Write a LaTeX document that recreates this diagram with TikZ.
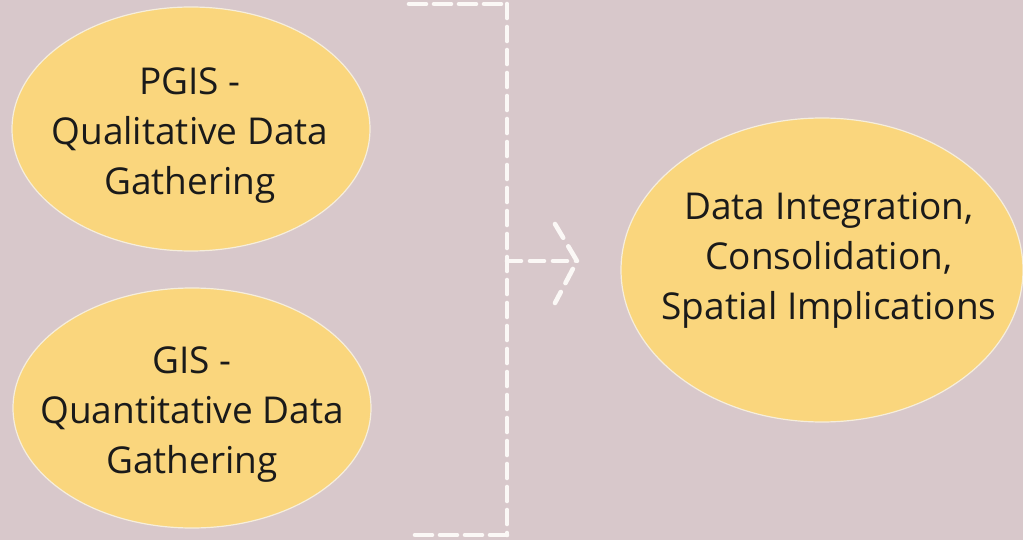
\documentclass[tikz,border=0pt]{standalone}
\usepackage{fontspec}
\setmainfont{Open Sans}
\usetikzlibrary{shapes.geometric}
\definecolor{bg}{HTML}{D8C8CB}
\definecolor{ell}{HTML}{FAD67D}
\definecolor{ellrim}{HTML}{F6EEDC}
\definecolor{dashw}{HTML}{FBF8F6}
\definecolor{txt}{HTML}{1A1A1A}
\tikzset{
  blob/.style={ellipse, fill=ell, draw=ellrim, line width=1.2pt, inner sep=0pt},
  blobtext/.style={inner sep=0pt, text=txt, align=center, font=\fontsize{37}{50}\selectfont},
  wdash/.style={draw=dashw, line width=4.6pt, dash pattern=on 14pt off 9pt, line cap=round}
}
\begin{document}
\begin{tikzpicture}[x=1pt,y=-1pt]
\useasboundingbox (0,0) rectangle (1023,540);
\fill[bg] (0,0) rectangle (1023,540);
\node[blob, minimum width=358pt, minimum height=244pt] (pgis) at (191,129) {};
\node[blobtext] (pgist) at (190,135.5) {PGIS -\\Qualitative Data\\Gathering};
\node[blob, minimum width=358pt, minimum height=240pt] (gis) at (192,408) {};
\node[blobtext] (gist) at (192,414.5) {GIS -\\Quantitative Data\\Gathering};
\node[blob, minimum width=402pt, minimum height=304pt] (integ) at (822,270) {};
\node[blobtext] (integt) at (829,260) {Data Integration,\\Consolidation,\\Spatial Implications};
\coordinate (tl) at (409,4);
\coordinate (tr) at (507,4);
\coordinate (br) at (507,535);
\coordinate (bl) at (409,535);
\coordinate (mid) at (507,261);
\coordinate (tip) at (577,261);
\coordinate (hu) at (555,224);
\coordinate (hd) at (555,303);
\draw[wdash, dash pattern=on 17pt off 8pt] (tl) -- (tr);
\draw[wdash] (tr) -- (br);
\draw[wdash, dash pattern=on 17pt off 8pt] (br) -- (bl);
\draw[wdash] (mid) -- (tip);
\draw[wdash, dash pattern=on 16pt off 10pt] (hu) -- (tip) -- (hd);
\end{tikzpicture}
\end{document}
